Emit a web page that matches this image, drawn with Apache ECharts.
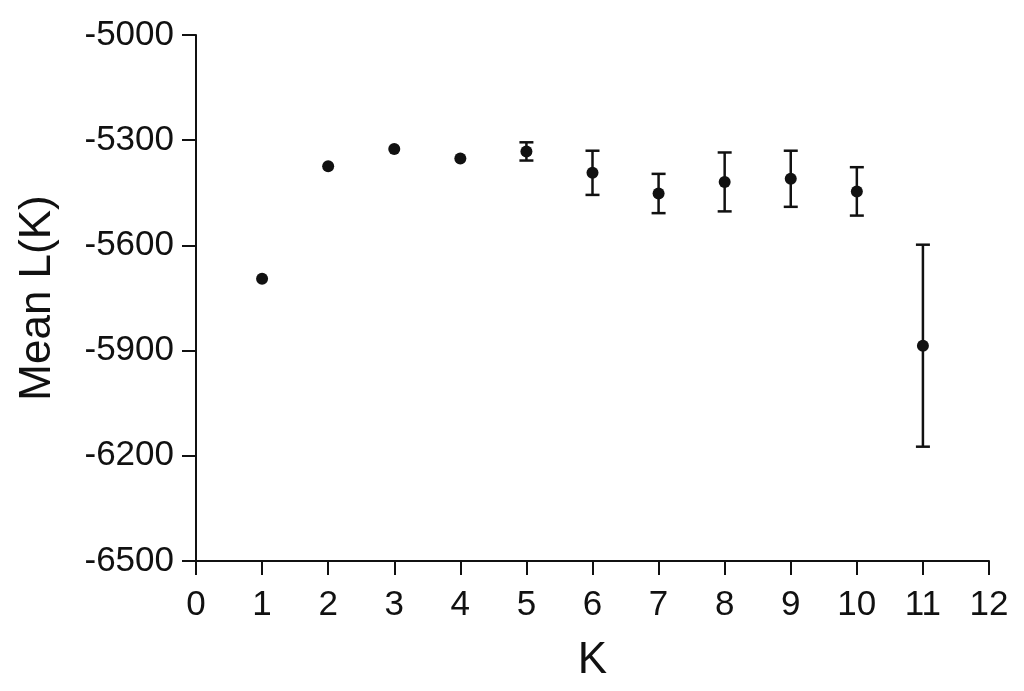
<!DOCTYPE html>
<html>
<head>
<meta charset="utf-8">
<script src="https://cdn.jsdelivr.net/npm/echarts@6/dist/echarts.min.js"></script>
<style>
  html, body { margin: 0; padding: 0; background: #fff; }
  #chart { width: 1024px; height: 691px; }
</style>
</head>
<body>
<div id="chart"></div>
<script>
// K values and mean L(K) with standard deviation
const kValues = [1, 2, 3, 4, 5, 6, 7, 8, 9, 10, 11];
const meanLK = [-5695, -5374, -5325, -5352, -5332, -5393, -5452, -5419, -5410, -5446, -5886];
const sdLK = [0, 0, 0, 0, 26, 63, 56, 84, 80, 69, 288];

const font = 'Liberation Sans, Arial, sans-serif';
const ink = '#111';

const points = kValues.map((k, i) => [k, meanLK[i]]);
const bars = kValues
  .map((k, i) => [k, meanLK[i] - sdLK[i], meanLK[i] + sdLK[i]])
  .filter((d, i) => sdLK[i] > 0);

const chart = echarts.init(document.getElementById('chart'));

chart.setOption({
  animation: false,
  backgroundColor: '#fff',
  grid: { left: 196, right: 35, top: 35, bottom: 130 },
  xAxis: {
    type: 'value',
    min: 0,
    max: 12,
    interval: 1,
    name: 'K',
    nameLocation: 'middle',
    nameGap: 78,
    nameTextStyle: { fontFamily: font, fontSize: 44, color: ink },
    axisLine: { lineStyle: { color: ink, width: 2 } },
    axisTick: { length: 14, lineStyle: { color: ink, width: 2 } },
    axisLabel: { fontFamily: font, fontSize: 35, color: ink, margin: 27 },
    splitLine: { show: false }
  },
  yAxis: {
    type: 'value',
    min: -6500,
    max: -5000,
    interval: 300,
    name: 'Mean L(K)',
    nameLocation: 'middle',
    nameGap: 136,
    nameRotate: 90,
    nameTextStyle: { fontFamily: font, fontSize: 44, color: ink },
    axisLine: { show: true, lineStyle: { color: ink, width: 2 } },
    axisTick: { show: true, length: 14, lineStyle: { color: ink, width: 2 } },
    axisLabel: {
      fontFamily: font, fontSize: 35, color: ink, margin: 22,
      formatter: function (v) { return String(v); }
    },
    splitLine: { show: false }
  },
  series: [
    {
      type: 'custom',
      data: bars,
      z: 2,
      renderItem: function (params, api) {
        const x = api.value(0);
        const lo = api.coord([x, api.value(1)]);
        const hi = api.coord([x, api.value(2)]);
        const w = 7;
        const style = { stroke: ink, lineWidth: 2.5 };
        return {
          type: 'group',
          children: [
            { type: 'line', shape: { x1: lo[0], y1: lo[1], x2: hi[0], y2: hi[1] }, style: style },
            { type: 'line', shape: { x1: lo[0] - w, y1: lo[1], x2: lo[0] + w, y2: lo[1] }, style: style },
            { type: 'line', shape: { x1: hi[0] - w, y1: hi[1], x2: hi[0] + w, y2: hi[1] }, style: style }
          ]
        };
      }
    },
    {
      type: 'scatter',
      data: points,
      symbol: 'circle',
      symbolSize: 12,
      z: 3,
      itemStyle: { color: ink, opacity: 1 }
    }
  ]
});
</script>
</body>
</html>
